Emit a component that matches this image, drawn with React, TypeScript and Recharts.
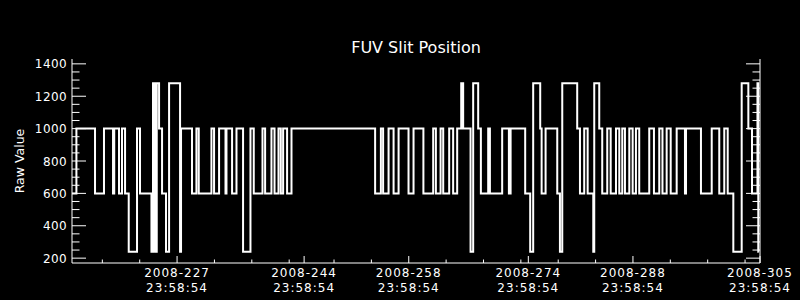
import { Line, LineChart, XAxis, YAxis } from 'recharts';

// day of year 2008 (fractional) where the slit moves, and the raw value it moves to
const slitDays = [
  212.94, 213.53, 216.02, 217.22, 218.43, 218.59, 219.23, 219.63, 220.04, 220.53,
  221.64, 222.04, 223.57, 223.78, 224.05, 224.28, 224.59, 224.99, 225.52, 225.93,
  227.4, 227.53, 229.0, 229.59, 229.9, 231.6, 231.95, 232.62, 233.48, 233.61,
  234.36, 234.95, 235.83, 236.82, 237.26, 238.43, 238.78, 239.63, 240.04, 240.57,
  240.88, 241.19, 241.72, 242.31, 253.5, 254.27, 254.57, 255.3, 255.97, 256.64,
  257.97, 258.64, 259.96, 261.27, 261.63, 262.26, 262.61, 263.41, 263.94, 264.48,
  265.02, 265.28, 266.27, 266.62, 267.29, 267.65, 268.63, 268.86, 270.5, 271.4,
  271.63, 273.58, 274.25, 274.65, 275.59, 275.78, 276.31, 277.87, 278.23, 278.54,
  280.54, 280.91, 281.48, 281.94, 282.69, 282.82, 283.49, 283.89, 284.56, 285.02,
  285.73, 286.17, 286.57, 286.93, 287.51, 287.96, 288.4, 288.84, 290.18, 290.81,
  291.52, 291.95, 292.51, 293.05, 293.85, 294.96, 295.1, 297.1, 298.54, 299.55,
  300.22, 300.68, 301.43, 302.55, 303.44, 303.93, 304.66, 304.77, 304.84
];

const slitValues = [
  600, 1000, 600, 1000, 600, 1000, 600, 1000, 600, 240,
  1000, 600, 240, 1280, 240, 1280, 1000, 600, 240, 1280,
  240, 1000, 600, 1000, 600, 1000, 600, 1000, 600, 1000,
  600, 1000, 240, 1000, 600, 1000, 600, 1000, 600, 1000,
  600, 1000, 600, 1000, 600, 1000, 600, 1000, 600, 1000,
  600, 1000, 600, 1000, 600, 1000, 600, 1000, 600, 1000,
  1280, 1000, 240, 1280, 1000, 600, 1000, 600, 1000, 600,
  1000, 600, 240, 1280, 1000, 600, 1000, 600, 240, 1280,
  1000, 600, 1000, 600, 240, 1280, 1000, 600, 1000, 600,
  1000, 600, 1000, 600, 1000, 600, 1000, 600, 1000, 600,
  1000, 600, 1000, 600, 1000, 600, 1000, 600, 1000, 600,
  1000, 600, 240, 1280, 1000, 600, 1280, 240, 240
];

const xMajorTicks = [227, 244, 258, 274, 288, 305];
const xTickLabels = ['2008-227', '2008-244', '2008-258', '2008-274', '2008-288', '2008-305'];
const xTimeLabel = '23:58:54';
const xMinorTicks = [217, 222, 232, 237, 242, 248, 253, 263, 268, 273, 278, 283, 293, 298, 303];

const yMajorTicks = [200, 400, 600, 800, 1000, 1200, 1400];
const yMinorTicks = [
  250, 300, 350, 450, 500, 550, 650, 700, 750, 850, 900, 950, 1050, 1100, 1150, 1250, 1300, 1350
];

const data = slitDays.map((day, i) => ({ day, value: slitValues[i] }));

const xTicks = [...xMajorTicks, ...xMinorTicks].sort((a, b) => a - b);
const yTicks = [...yMajorTicks, ...yMinorTicks].sort((a, b) => a - b);

const font = 'DejaVu Sans';

const BottomTick = (props: any) => {
  const { x, y, payload } = props;
  const idx = xMajorTicks.indexOf(payload.value);
  const major = idx >= 0;
  return (
    <g>
      <line x1={x} y1={y} x2={x} y2={y - (major ? 7 : 3.5)} stroke='#fff' />
      {major && (
        <text x={x} y={y} textAnchor='middle' fill='#fff' fontSize={12} fontFamily={font} letterSpacing={1}>
          <tspan x={x} dy={14}>{xTickLabels[idx]}</tspan>
          <tspan x={x} dy={15}>{xTimeLabel}</tspan>
        </text>
      )}
    </g>
  );
};

const TopTick = (props: any) => {
  const { x, y, payload } = props;
  const major = xMajorTicks.includes(payload.value);
  return <line x1={x} y1={y} x2={x} y2={y + (major ? 7 : 3.5)} stroke='#fff' />;
};

const LeftTick = (props: any) => {
  const { x, y, payload } = props;
  const major = yMajorTicks.includes(payload.value);
  return (
    <g>
      <line x1={x} y1={y} x2={x + (major ? 14 : 7.5)} y2={y} stroke='#fff' />
      {major && (
        <text x={x - 5} y={y + 4.5} textAnchor='end' fill='#fff' fontSize={12} fontFamily={font} letterSpacing={0.4}>
          {payload.value}
        </text>
      )}
    </g>
  );
};

const RightTick = (props: any) => {
  const { x, y, payload } = props;
  const major = yMajorTicks.includes(payload.value);
  return <line x1={x} y1={y} x2={x - (major ? 14 : 7.5)} y2={y} stroke='#fff' />;
};

export default function App() {
  return (
    <div style={{ position: 'absolute', left: 0, top: 0, width: 800, height: 300, background: '#000' }}>
      <LineChart width={800} height={300} data={data} margin={{ top: 59, right: 0, bottom: 0, left: 0 }}>
        <XAxis
          xAxisId='b'
          dataKey='day'
          type='number'
          domain={[212.94, 305]}
          allowDataOverflow
          ticks={xTicks}
          interval={0}
          height={37}
          stroke='#fff'
          tickLine={false}
          tickSize={0}
          tickMargin={0}
          tick={BottomTick}
        />
        <XAxis
          xAxisId='t'
          orientation='top'
          dataKey='day'
          type='number'
          domain={[212.94, 305]}
          allowDataOverflow
          ticks={xTicks}
          interval={0}
          height={0}
          stroke='#fff'
          tickLine={false}
          tickSize={0}
          tickMargin={0}
          tick={TopTick}
        />
        <YAxis
          yAxisId='l'
          type='number'
          domain={[170, 1430]}
          allowDataOverflow
          ticks={yTicks}
          interval={0}
          width={72}
          stroke='#fff'
          tickLine={false}
          tickSize={0}
          tickMargin={0}
          tick={LeftTick}
        />
        <YAxis
          yAxisId='r'
          orientation='right'
          type='number'
          domain={[170, 1430]}
          allowDataOverflow
          ticks={yTicks}
          interval={0}
          width={40}
          stroke='#fff'
          tickLine={false}
          tickSize={0}
          tickMargin={0}
          tick={RightTick}
        />
        <Line
          xAxisId='b'
          yAxisId='l'
          type='stepAfter'
          dataKey='value'
          stroke='#fff'
          strokeWidth={2}
          dot={false}
          isAnimationActive={false}
        />
        <Line
          xAxisId='t'
          yAxisId='r'
          type='stepAfter'
          dataKey='value'
          stroke='none'
          dot={false}
          isAnimationActive={false}
        />
      </LineChart>
      <svg width={800} height={300} style={{ position: 'absolute', left: 0, top: 0, pointerEvents: 'none' }}>
        <text x={416} y={53} textAnchor='middle' fill='#fff' fontSize={16} fontFamily={font}>
          FUV Slit Position
        </text>
        <text
          x={24}
          y={161}
          transform='rotate(-90 24 161)'
          textAnchor='middle'
          fill='#fff'
          fontSize={12.5}
          fontFamily={font}>
          Raw Value
        </text>
      </svg>
    </div>
  );
}
